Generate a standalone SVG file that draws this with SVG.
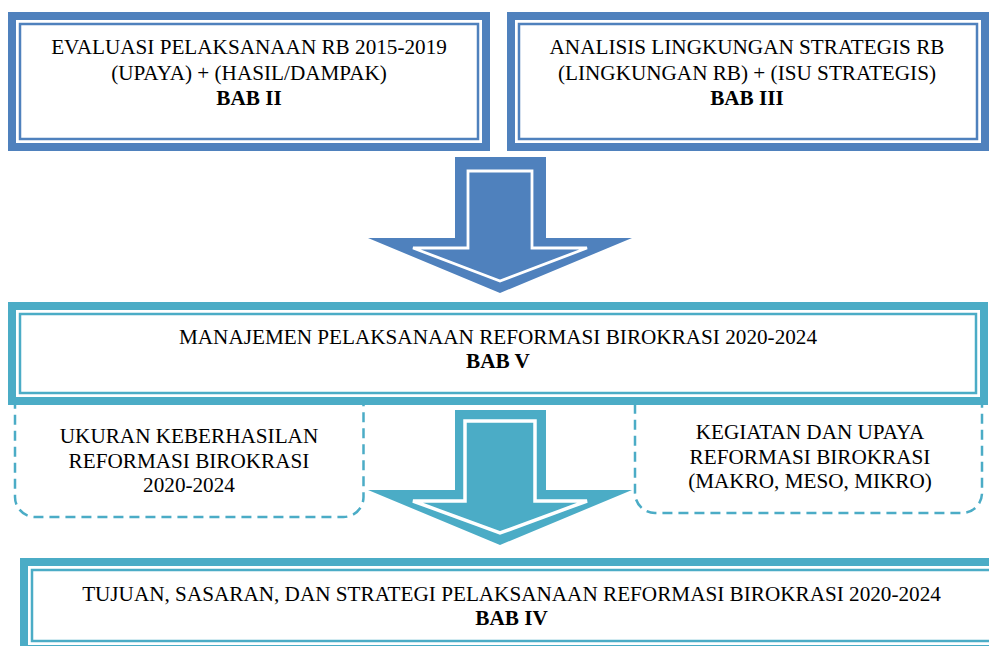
<svg xmlns="http://www.w3.org/2000/svg" width="989" height="646" viewBox="0 0 989 646">
<style>
.t{font-family:"Liberation Serif","Times New Roman",serif;font-size:21.2px;fill:#000;text-anchor:middle}
.b{font-weight:bold}
.thickB{fill:#fff;stroke:#4F81BD;stroke-width:8}
.thinB{fill:none;stroke:#4F81BD;stroke-width:2.5}
.thickA{fill:#fff;stroke:#4BACC6;stroke-width:8}
.thinA{fill:none;stroke:#4BACC6;stroke-width:2.5}
.dash{fill:#fff;stroke:#4BACC6;stroke-width:2.5;stroke-dasharray:10 6}
</style>
<rect width="989" height="646" fill="#fff"/>
<g id="evaluasi">
<rect class="thickB" x="12" y="16" width="474" height="131"/>
<rect class="thinB" x="20" y="24" width="458" height="115"/>
<text class="t" x="249" y="54">EVALUASI PELAKSANAAN RB 2015-2019</text>
<text class="t" x="249" y="79.5">(UPAYA) + (HASIL/DAMPAK)</text>
<text class="t b" x="249" y="104.5">BAB II</text>
</g>
<g id="analisis">
<rect class="thickB" x="511" y="16" width="474" height="131"/>
<rect class="thinB" x="519" y="24" width="458" height="115"/>
<text class="t" x="747" y="54">ANALISIS LINGKUNGAN STRATEGIS RB</text>
<text class="t" x="747" y="79.5">(LINGKUNGAN RB) + (ISU STRATEGIS)</text>
<text class="t b" x="747" y="104.5">BAB III</text>
</g>
<g id="ukuran">
<rect class="dash" x="15" y="380" width="348.5" height="137" rx="20"/>
<text class="t" x="189" y="443">UKURAN KEBERHASILAN</text>
<text class="t" x="189" y="467.5">REFORMASI BIROKRASI</text>
<text class="t" x="189" y="491.5">2020-2024</text>
</g>
<g id="kegiatan">
<rect class="dash" x="635" y="380" width="347" height="133" rx="20"/>
<text class="t" x="810" y="439">KEGIATAN DAN UPAYA</text>
<text class="t" x="810" y="463.5">REFORMASI BIROKRASI</text>
<text class="t" x="810" y="487.5">(MAKRO, MESO, MIKRO)</text>
</g>
<g id="manajemen">
<rect class="thickA" x="12" y="306" width="972" height="95"/>
<rect class="thinA" x="20" y="314" width="956" height="79"/>
<text class="t" x="498" y="343.5">MANAJEMEN PELAKSANAAN REFORMASI BIROKRASI 2020-2024</text>
<text class="t b" x="498" y="368">BAB V</text>
</g>
<g id="tujuan">
<rect class="thickA" x="24" y="562" width="982" height="87"/>
<rect class="thinA" x="32" y="570" width="966" height="71"/>
<text class="t" x="511.5" y="601">TUJUAN, SASARAN, DAN STRATEGI PELAKSANAAN REFORMASI BIROKRASI 2020-2024</text>
<text class="t b" x="511.5" y="625">BAB IV</text>
</g>
<g id="connectors">
<polygon points="455,157 546,157 546,238 632,238 500,293 368,238 455,238" fill="#4F81BD"/>
<polygon points="468,171 532,171 532,248 587,248 500,281 413,248 468,248" fill="#4F81BD" stroke="#fff" stroke-width="2.8" stroke-linejoin="miter"/>
<polygon points="455,410 546,410 546,490 632,490 500,545 368,490 455,490" fill="#4BACC6"/>
<polygon points="465,421 535,421 535,501 587,501 500,533 413,501 465,501" fill="#4BACC6" stroke="#fff" stroke-width="3.5" stroke-linejoin="miter"/>
</g>
</svg>
